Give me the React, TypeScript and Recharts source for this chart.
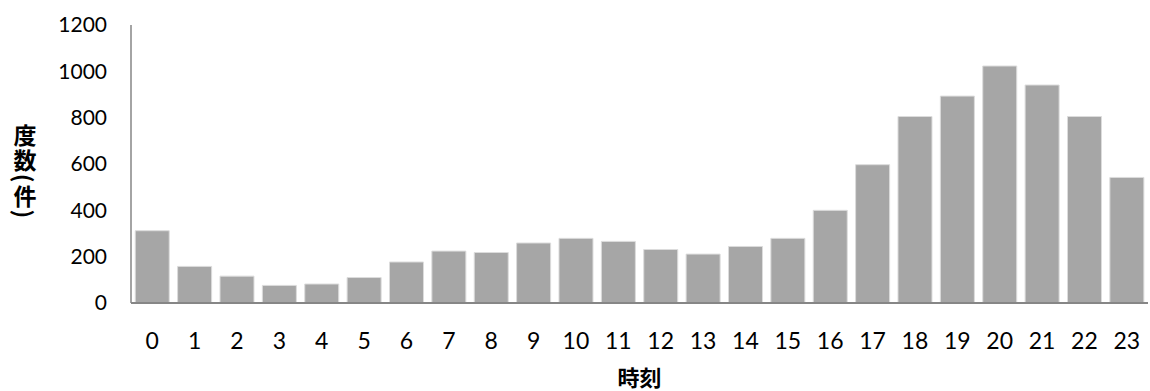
import React from 'react';
import { BarChart, Bar, XAxis, YAxis } from 'recharts';

// Hour of day (0-23)
const hours: string[] = [
  '0', '1', '2', '3', '4', '5', '6', '7', '8', '9', '10', '11',
  '12', '13', '14', '15', '16', '17', '18', '19', '20', '21', '22', '23',
];

// Count per hour
const counts: number[] = [
  312, 158, 116, 76, 82, 110, 177, 224, 218, 259, 279, 266,
  231, 211, 244, 279, 400, 597, 805, 893, 1023, 941, 805, 542,
];

const yTicks: number[] = [0, 200, 400, 600, 800, 1000, 1200];

const xTitle = '時刻';
const yTitle = '度数(件)';

const data = hours.map((h, i) => ({ hour: h, count: counts[i] }));

const LATIN = 'Lato, "Open Sans", sans-serif';
const CJK = '"Noto Sans CJK JP", sans-serif';
const AXIS = '#868686';

// Y-axis title set in vertical writing mode, centred on the plot height
const VerticalTitle = (props: any) => {
  const vb = props.viewBox || {};
  const cx = 25;
  const cy = (vb.y ?? 25) + (vb.height ?? 278) / 2 + 8;
  return (
    <text
      x={cx}
      y={cy}
      textAnchor="middle"
      fontFamily={CJK}
      fontWeight={700}
      fontSize={23}
      letterSpacing={2}
      fill="#000"
      style={{ writingMode: 'vertical-rl' }}
    >
      {yTitle}
    </text>
  );
};

export default function App() {
  return (
    <div style={{ position: 'absolute', left: 0, top: 0, background: '#fff' }}>
      <BarChart
        width={1150}
        height={391}
        data={data}
        margin={{ top: 25, right: 2, bottom: 0, left: 0 }}
        barCategoryGap="10%"
      >
        <XAxis
          dataKey="hour"
          height={88}
          tickLine={false}
          tickSize={0}
          tickMargin={30}
          axisLine={{ stroke: AXIS, strokeWidth: 2 }}
          tick={{ fill: '#000', fontSize: 23, fontFamily: LATIN }}
          interval={0}
          label={{
            value: xTitle,
            position: 'insideBottom',
            offset: 5,
            fill: '#000',
            fontSize: 22,
            fontWeight: 700,
            fontFamily: CJK,
          }}
        />
        <YAxis
          width={131}
          domain={[0, 1200]}
          ticks={yTicks}
          interval={0}
          tickLine={false}
          tickSize={0}
          tickMargin={24}
          axisLine={{ stroke: AXIS, strokeWidth: 1.5 }}
          tick={{ fill: '#000', fontSize: 21, fontFamily: LATIN }}
          label={<VerticalTitle />}
        />
        <Bar
          dataKey="count"
          fill="#A6A6A6"
          stroke="#DCDCDC"
          strokeWidth={1}
          isAnimationActive={false}
        />
      </BarChart>
    </div>
  );
}
